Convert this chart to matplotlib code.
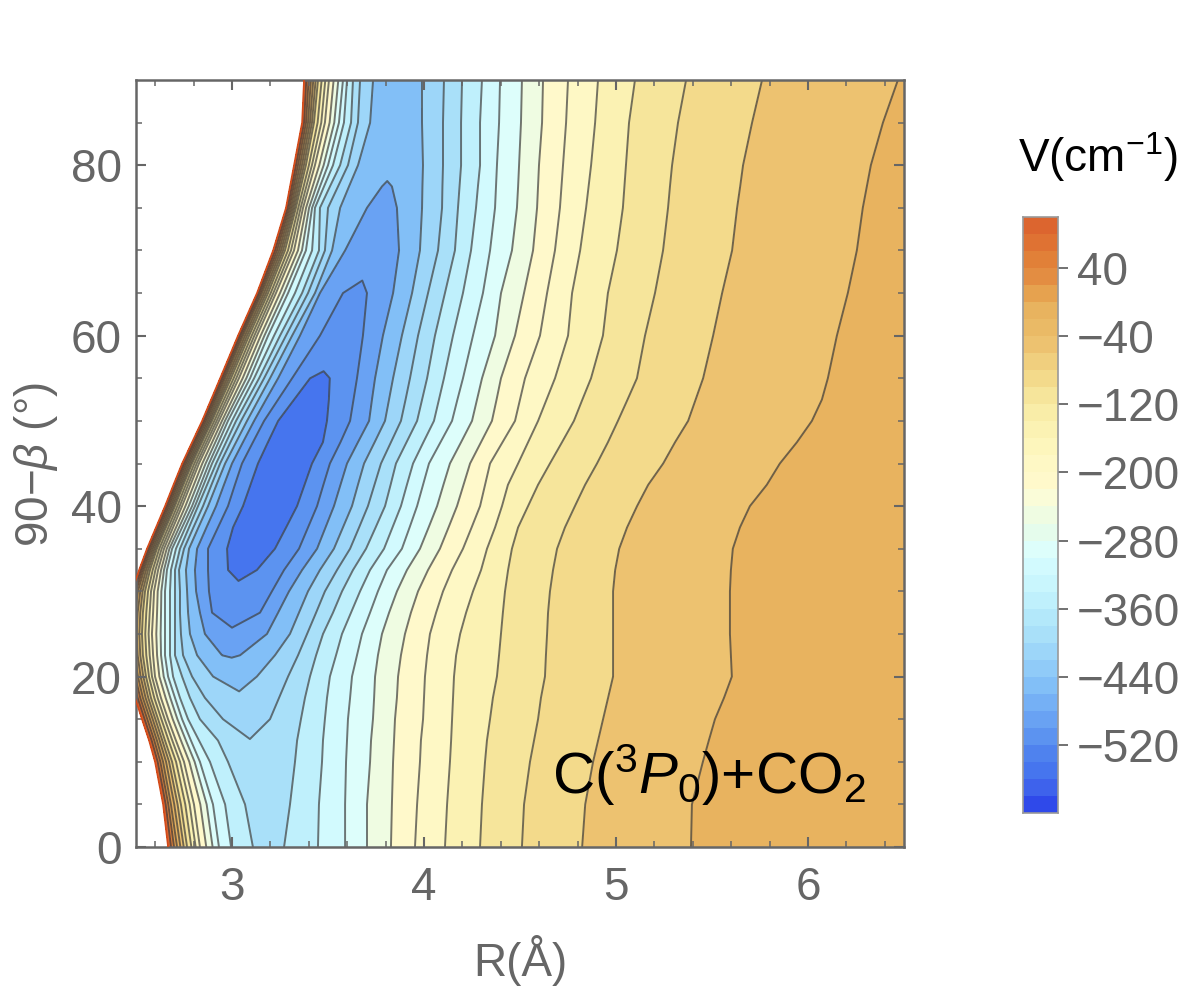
import numpy as np
from matplotlib import pyplot as plt
from matplotlib.colors import ListedColormap, BoundaryNorm

plt.rcParams['font.family'] = ['Liberation Sans', 'DejaVu Sans']
plt.rcParams['mathtext.fontset'] = 'custom'
plt.rcParams['mathtext.rm'] = 'Liberation Sans'
plt.rcParams['mathtext.it'] = 'Liberation Sans:italic'
plt.rcParams['mathtext.default'] = 'regular'
plt.rcParams['contour.negative_linestyle'] = 'solid'

n = np.nan

# rows of the table: 90-beta in degrees
angles = [0, 5, 10, 12.5, 15, 17.5, 20, 22.5, 25, 27.5, 30, 32.5, 35, 37.5, 40, 42.5, 45, 47.5, 50, 52.5, 55,
          60, 65, 70, 75, 77.5, 80, 85, 90]

# V on the repulsive (small R) side, and where R crosses it in each row. n = the row never gets that low
left_V = [100, 0, -100, -200, -300, -333.3, -366.7, -400, -433.3, -466.7, -500, -533.3]
left_R = [
    [2.667, 2.714, 2.766, 2.833, 2.932, 2.995, 3.109, n, n, n, n, n],
    [2.641, 2.682, 2.734, 2.802, 2.901, 2.964, 3.068, n, n, n, n, n],
    [2.599, 2.641, 2.688, 2.750, 2.833, 2.885, 2.979, n, n, n, n, n],
    [2.568, 2.609, 2.651, 2.708, 2.786, 2.828, 2.927, n, n, n, n, n],
    [2.531, 2.573, 2.615, 2.667, 2.740, 2.771, 2.833, 2.953, n, n, n, n],
    [2.495, 2.536, 2.578, 2.630, 2.703, 2.729, 2.781, 2.859, n, n, n, n],
    [2.469, 2.510, 2.552, 2.599, 2.667, 2.693, 2.740, 2.792, 2.901, n, n, n],
    [2.453, 2.495, 2.536, 2.589, 2.651, 2.677, 2.703, 2.745, 2.818, 2.948, n, n],
    [2.448, 2.490, 2.531, 2.583, 2.651, 2.677, 2.703, 2.734, 2.781, 2.859, n, n],
    [2.458, 2.495, 2.536, 2.589, 2.651, 2.677, 2.703, 2.729, 2.771, 2.833, 2.896, n],
    [2.479, 2.510, 2.547, 2.594, 2.651, 2.677, 2.703, 2.729, 2.766, 2.813, 2.880, n],
    [2.516, 2.542, 2.573, 2.615, 2.661, 2.682, 2.703, 2.724, 2.760, 2.807, 2.875, 2.979],
    [2.557, 2.583, 2.609, 2.646, 2.688, 2.708, 2.729, 2.750, 2.776, 2.818, 2.875, 2.974],
    [2.604, 2.630, 2.656, 2.693, 2.740, 2.757, 2.776, 2.799, 2.825, 2.867, 2.927, 3.005],
    [2.651, 2.677, 2.703, 2.740, 2.792, 2.807, 2.823, 2.849, 2.875, 2.917, 2.979, 3.057],
    [2.695, 2.721, 2.747, 2.784, 2.836, 2.852, 2.870, 2.893, 2.919, 2.958, 3.015, 3.096],
    [2.740, 2.766, 2.792, 2.828, 2.880, 2.896, 2.917, 2.938, 2.964, 3.000, 3.052, 3.135],
    [2.792, 2.818, 2.844, 2.880, 2.930, 2.948, 2.969, 2.992, 3.021, 3.057, 3.109, 3.187],
    [2.844, 2.870, 2.896, 2.932, 2.979, 3.000, 3.021, 3.047, 3.078, 3.115, 3.167, 3.240],
    [2.891, 2.917, 2.945, 2.984, 3.036, 3.057, 3.081, 3.107, 3.138, 3.177, 3.240, 3.323],
    [2.938, 2.964, 2.995, 3.036, 3.094, 3.115, 3.141, 3.167, 3.198, 3.240, 3.313, 3.406],
    [3.031, 3.057, 3.089, 3.130, 3.188, 3.219, 3.250, 3.281, 3.313, 3.354, 3.458, n],
    [3.130, 3.156, 3.188, 3.229, 3.292, 3.328, 3.365, 3.396, 3.432, 3.458, 3.578, n],
    [3.214, 3.245, 3.276, 3.323, 3.385, 3.417, 3.453, 3.484, 3.521, 3.589, n, n],
    [3.281, 3.307, 3.333, 3.370, 3.417, 3.432, 3.458, 3.500, 3.563, 3.703, n, n],
    [3.302, 3.330, 3.359, 3.401, 3.458, 3.479, 3.510, 3.552, 3.609, 3.781, n, n],
    [3.323, 3.354, 3.385, 3.432, 3.500, 3.526, 3.563, 3.604, 3.656, n, n, n],
    [3.365, 3.396, 3.427, 3.484, 3.557, 3.583, 3.620, 3.656, 3.719, n, n, n],
    [3.375, 3.411, 3.448, 3.505, 3.578, 3.599, 3.630, 3.667, 3.734, n, n, n],
]

# bottom of the well in each row
valley_R = [3.188, 3.188, 3.156, 3.094, 3.083, 3.042, 3.026, 2.995, 3.000, 3.000, 3.021, 3.047,
            3.094, 3.146, 3.198, 3.240, 3.276, 3.328, 3.380, 3.422, 3.458,
            3.573, 3.651, 3.745, 3.781, 3.807, 3.813, 3.854, 3.865]
valley_V = [-372, -375, -388, -399, -414, -430, -441, -470, -495, -512, -527, -540,
            -550, -557, -560, -558, -555, -552, -548, -543, -536,
            -520, -505, -488, -475, -469, -460, -448, -440]

# V on the long range side, same idea
right_V = [-533.3, -500, -466.7, -433.3, -400, -366.7, -333.3, -300, -266.7, -233.3, -200, -166.7, -133.3, -100, -66.7, -33.3]
right_R = [
    [n, n, n, n, n, 3.271, 3.448, 3.589, 3.703, 3.828, 3.953, 4.109, 4.292, 4.510, 4.823, 5.391],
    [n, n, n, n, n, 3.302, 3.453, 3.589, 3.703, 3.833, 3.964, 4.120, 4.302, 4.521, 4.839, 5.396],
    [n, n, n, n, n, 3.328, 3.469, 3.594, 3.719, 3.839, 3.979, 4.135, 4.318, 4.552, 4.880, 5.453],
    [n, n, n, n, n, 3.339, 3.474, 3.599, 3.724, 3.844, 3.984, 4.141, 4.328, 4.573, 4.906, 5.484],
    [n, n, n, n, 3.198, 3.359, 3.484, 3.604, 3.734, 3.849, 3.995, 4.146, 4.344, 4.594, 4.932, 5.516],
    [n, n, n, n, 3.245, 3.380, 3.495, 3.615, 3.740, 3.859, 4.000, 4.151, 4.359, 4.609, 4.958, 5.563],
    [n, n, n, 3.130, 3.292, 3.406, 3.510, 3.625, 3.745, 3.865, 4.005, 4.156, 4.380, 4.630, 4.984, 5.604],
    [n, n, 3.042, 3.224, 3.344, 3.438, 3.542, 3.651, 3.760, 3.880, 4.016, 4.167, 4.391, 4.635, 4.984, 5.599],
    [n, n, 3.182, 3.302, 3.391, 3.474, 3.573, 3.677, 3.781, 3.901, 4.031, 4.188, 4.401, 4.641, 4.984, 5.594],
    [n, 3.146, 3.240, 3.349, 3.438, 3.526, 3.620, 3.719, 3.818, 3.932, 4.063, 4.219, 4.411, 4.646, 4.984, 5.594],
    [n, 3.208, 3.297, 3.396, 3.484, 3.573, 3.667, 3.760, 3.859, 3.969, 4.099, 4.255, 4.422, 4.656, 4.984, 5.594],
    [3.130, 3.271, 3.365, 3.458, 3.547, 3.630, 3.719, 3.807, 3.911, 4.021, 4.146, 4.297, 4.438, 4.672, 4.995, 5.599],
    [3.224, 3.349, 3.443, 3.531, 3.615, 3.698, 3.792, 3.885, 3.979, 4.083, 4.203, 4.328, 4.458, 4.693, 5.016, 5.609],
    [3.282, 3.396, 3.487, 3.578, 3.662, 3.748, 3.836, 3.925, 4.024, 4.128, 4.248, 4.370, 4.490, 4.734, 5.057, 5.646],
    [3.339, 3.443, 3.531, 3.625, 3.708, 3.797, 3.880, 3.964, 4.068, 4.172, 4.292, 4.406, 4.542, 4.786, 5.109, 5.698],
    [3.378, 3.476, 3.565, 3.656, 3.742, 3.826, 3.911, 3.995, 4.101, 4.206, 4.318, 4.437, 4.594, 4.839, 5.167, 5.786],
    [3.417, 3.510, 3.599, 3.688, 3.776, 3.854, 3.943, 4.026, 4.135, 4.240, 4.344, 4.490, 4.656, 4.901, 5.245, 5.854],
    [3.474, 3.565, 3.656, 3.743, 3.828, 3.909, 3.997, 4.086, 4.193, 4.297, 4.409, 4.542, 4.719, 4.958, 5.307, 5.943],
    [3.495, 3.615, 3.714, 3.797, 3.880, 3.964, 4.052, 4.146, 4.250, 4.354, 4.474, 4.594, 4.781, 5.010, 5.375, 6.021],
    [3.505, 3.633, 3.729, 3.818, 3.904, 3.990, 4.078, 4.174, 4.276, 4.378, 4.500, 4.638, 4.825, 5.060, 5.414, 6.073],
    [3.510, 3.651, 3.745, 3.839, 3.927, 4.016, 4.104, 4.203, 4.302, 4.401, 4.526, 4.682, 4.870, 5.109, 5.453, 6.104],
    [n, 3.682, 3.786, 3.885, 3.969, 4.057, 4.151, 4.255, 4.370, 4.474, 4.604, 4.750, 4.932, 5.151, 5.505, 6.151],
    [n, 3.703, 3.839, 3.938, 4.021, 4.109, 4.203, 4.307, 4.401, 4.521, 4.641, 4.771, 4.958, 5.203, 5.552, 6.208],
    [n, n, 3.870, 3.979, 4.073, 4.161, 4.245, 4.344, 4.458, 4.568, 4.682, 4.813, 5.005, 5.245, 5.604, 6.255],
    [n, n, 3.859, 3.990, 4.094, 4.177, 4.271, 4.370, 4.484, 4.589, 4.708, 4.844, 5.036, 5.271, 5.630, 6.286],
    [n, n, 3.833, 3.992, 4.096, 4.185, 4.281, 4.375, 4.490, 4.594, 4.716, 4.857, 5.044, 5.281, 5.646, 6.307],
    [n, n, n, 3.995, 4.099, 4.193, 4.292, 4.380, 4.495, 4.599, 4.724, 4.870, 5.052, 5.292, 5.661, 6.328],
    [n, n, n, 3.990, 4.099, 4.193, 4.292, 4.391, 4.505, 4.615, 4.740, 4.891, 5.068, 5.323, 5.708, 6.391],
    [n, n, n, 3.990, 4.104, 4.198, 4.302, 4.396, 4.510, 4.620, 4.750, 4.906, 5.099, 5.365, 5.760, 6.469],
]
edge_R = 6.5
edge_V = -20

# colour bar, one colour per 20 cm-1 from 100 down to -600
bar_colors = ['#dc652f', '#df7233', '#e18038', '#e38d42', '#e6a24f', '#e8b35f', '#eaba66', '#edc270', '#f0cf7e',
              '#f3da8b', '#f6e59b', '#f9eda8', '#fbf2b3', '#fdf6bc', '#fef8c5', '#fff9cb', '#fafcd8', '#effce2',
              '#e5fcec', '#ddfefb', '#d2fafe', '#c9f6fd', '#bff0fc', '#b3e8fa', '#a9e0f9', '#9dd6f9', '#90cbf8',
              '#82bff7', '#75b0f5', '#69a2f3', '#5c93f0', '#4f82ee', '#4675ee', '#3e62ec', '#2f49ea']
bar_ticks = [40, -40, -120, -200, -280, -360, -440, -520]
x_ticks = [3, 4, 5, 6]
y_ticks = [0, 20, 40, 60, 80]

gray = '#666666'

#
fig = plt.figure( figsize=(12, 9.94), dpi=100 )
ax = fig.add_axes( [136/1200, 147/994, 768/1200, 767/994] )

left_R = np.array( left_R )
right_R = np.array( right_R )
valley_R = np.array( valley_R )
valley_V = np.array( valley_V, dtype=float )

# mesh: every row runs wall -> well bottom -> right edge, so the lines follow the wall
nRows = len( angles )
X = np.column_stack( [ left_R, valley_R, right_R, np.full( nRows, edge_R ) ] )
Z = np.column_stack( [ np.tile( left_V, (nRows, 1) ), valley_V, np.tile( right_V, (nRows, 1) ), np.full( nRows, edge_V ) ] ).astype( float )
missing = np.isnan( X )
X[missing] = np.tile( valley_R[:, None], (1, X.shape[1]) )[missing]
Z[missing] = np.tile( valley_V[:, None], (1, X.shape[1]) )[missing]
Y = np.tile( np.array( angles )[:, None], (1, X.shape[1]) )

barEdges = np.arange( -600, 101, 20 )
cmap = ListedColormap( bar_colors[::-1] )
norm = BoundaryNorm( barEdges, cmap.N )

levels = np.linspace( -600, 100, 22 )
fillLevels = levels.copy()
fillLevels[-1] = 100.01
ax.contourf( X, Y, Z, levels=fillLevels, cmap=cmap, norm=norm )
ax.contour( X, Y, Z, levels=levels[1:-1], colors='#3c3c3c', linewidths=1.4, alpha=.7 )
ax.plot( left_R[:, 0], angles, color='#d34a1a', lw=1.2, zorder=3 )

ax.set_xlim( 2.5, 6.5 )
ax.set_ylim( 0, 90 )
ax.set_xticks( x_ticks )
ax.set_yticks( y_ticks )
ax.set_xticks( np.arange( 2.6, 6.5, .2 ), minor=True )
ax.set_yticks( np.arange( 5, 90, 5 ), minor=True )
ax.set_axisbelow( False )
ax.tick_params( which='both', direction='in', top=True, right=True, color=gray, labelcolor=gray, labelsize=33 )
ax.tick_params( which='major', length=7.5, width=1.5, pad=14 )
ax.tick_params( axis='y', which='major', pad=10 )
ax.tick_params( which='minor', length=4, width=1.1 )
for s in ax.spines.values():
    s.set_color( gray )
    s.set_linewidth( 1.8 )
ax.set_xlabel( 'R(Å)', fontsize=33, color=gray, labelpad=18 )
ax.set_ylabel( r'90$-\mathit{\beta}$ (°)', fontsize=33, color=gray )
ax.yaxis.set_label_coords( -.099, .498 )

ax.text( 6.3, 8.4, r'C($^3$$\mathit{P}_0$)+CO$_2$', fontsize=42, color='black', ha='right', va='center' )
#
cax = fig.add_axes( [1023/1200, (994-813)/994, 35/1200, 596/994] )
barMids = ( barEdges[:-1] + barEdges[1:] ) / 2
cax.pcolormesh( [0, 1], barEdges, barMids[:, None], cmap=cmap, norm=norm )
cax.set_xticks( [] )
cax.yaxis.tick_right()
cax.set_yticks( bar_ticks )
cax.tick_params( direction='out', length=7.5, width=1.3, color=gray, labelcolor=gray, labelsize=33, pad=6 )
for s in cax.spines.values():
    s.set_color( '#999999' )
    s.set_linewidth( 1.2 )
fig.text( 1098/1200, (994-157)/994, r'V(cm$^{-1}$)', fontsize=33, color='black', ha='center', va='center' )

fig.savefig( 'out.png', dpi=100 )
